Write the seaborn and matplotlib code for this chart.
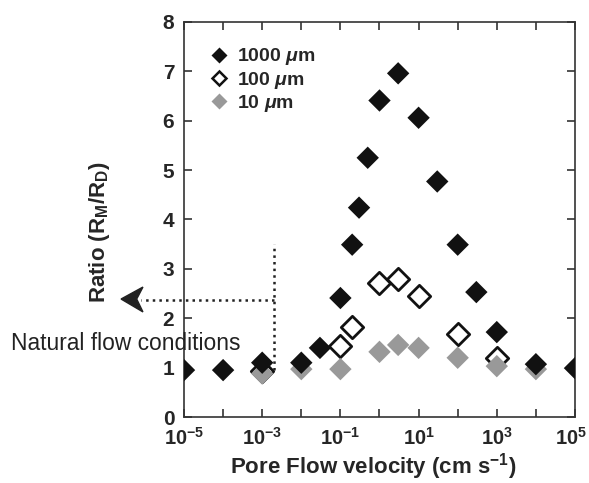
import numpy as np
import matplotlib
matplotlib.use('Agg')
import matplotlib.pyplot as plt
import seaborn as sns
from matplotlib.ticker import FixedLocator, NullLocator
from matplotlib.lines import Line2D
from matplotlib.patches import Polygon
from matplotlib.transforms import ScaledTranslation

# Datos
x_1000 = [1e-5, 1e-4, 1e-3, 1e-2, 0.03, 0.1, 0.2, 0.3, 0.5, 1, 3, 10, 30, 100, 300, 1000, 1e4, 1e5]
y_1000 = [0.95, 0.95, 1.1, 1.1, 1.4, 2.41, 3.49, 4.24, 5.25, 6.41, 6.96, 6.06, 4.77, 3.49, 2.53, 1.72, 1.07, 0.99]

x_100 = [1e-3, 0.1, 0.2, 1, 3, 10, 100, 1000]
y_100 = [0.93, 1.44, 1.83, 2.72, 2.80, 2.45, 1.68, 1.20]

x_10 = [1e-3, 1e-2, 0.1, 1, 3, 10, 100, 1000, 1e4]
y_10 = [0.88, 0.97, 0.97, 1.32, 1.46, 1.40, 1.20, 1.03, 0.97]

decadas = list(range(-5, 6))
y_ticks = list(range(0, 9))

sns.set_style('ticks')
plt.rcParams['font.family'] = ['Liberation Sans', 'DejaVu Sans']
plt.rcParams['mathtext.fontset'] = 'custom'
plt.rcParams['mathtext.rm'] = 'Liberation Sans:bold'
plt.rcParams['mathtext.bf'] = 'Liberation Sans:bold'
plt.rcParams['mathtext.it'] = 'Liberation Sans:bold:italic'

fig = plt.figure(figsize=(5.89, 4.83), dpi=100)
ax = fig.add_axes([0.3124, 0.1366, 0.6638, 0.8179])

ms = 130
sns.scatterplot(x=x_100, y=y_100, ax=ax, marker='D', s=ms,
                facecolor='white', edgecolor='#111111', linewidth=2, zorder=3)
sns.scatterplot(x=x_10, y=y_10, ax=ax, marker='D', s=ms,
                color='#999999', edgecolor='none', zorder=4)
sns.scatterplot(x=x_1000, y=y_1000, ax=ax, marker='D', s=ms,
                color='#111111', edgecolor='none', zorder=5)

ax.set_xscale('log')
ax.set_xlim(1e-5, 1e5)
ax.set_ylim(0, 8)

# Ticks
ax.xaxis.set_major_locator(FixedLocator([10.0 ** d for d in decadas]))
ax.xaxis.set_minor_locator(NullLocator())
ax.set_xticklabels([f'$10^{{{d}}}$' if d % 2 else '' for d in decadas])
ax.set_yticks(y_ticks)
ax.set_yticklabels([str(t) for t in y_ticks], fontweight='bold')
ax.tick_params(direction='in', top=True, right=True, length=6, width=1.2,
               labelsize=15, color='#333333')
ax.tick_params(axis='x', pad=7, labelsize=14.5)
ax.tick_params(axis='y', pad=7)
for s in ax.spines.values():
    s.set_linewidth(1.2)
    s.set_color('#333333')

# el ultimo rotulo (10^5) toca el borde: correrlo un poco a la izquierda
ultimo = ax.xaxis.get_major_ticks()[-1].label1
ultimo.set_transform(ultimo.get_transform() + ScaledTranslation(-4 / 100, 0, fig.dpi_scale_trans))

ax.set_xlabel('Pore Flow velocity (cm s$^{-1}$)', fontsize=16, fontweight='bold')
ax.xaxis.set_label_coords(0.483, -0.086)
ax.xaxis.label.set_va('top')
ax.set_ylabel(r'Ratio (R$_\mathrm{M}$/R$_\mathrm{D}$)', fontsize=16, fontweight='bold')
ax.yaxis.set_label_coords(-0.184, 0.468)

# Leyenda
handles = [
    Line2D([], [], marker='D', linestyle='none', markersize=8, color='#111111', markeredgecolor='none'),
    Line2D([], [], marker='D', linestyle='none', markersize=7.5, markerfacecolor='white',
           markeredgecolor='#111111', markeredgewidth=1.8),
    Line2D([], [], marker='D', linestyle='none', markersize=8, color='#999999', markeredgecolor='none'),
]
labels = ['1000 $\\mu$m', '100 $\\mu$m', '10 $\\mu$m']
ax.legend(handles, labels, loc='upper left', frameon=False,
          prop={'weight': 'bold', 'size': 14}, handletextpad=0.3,
          labelspacing=0.12, borderaxespad=0.0, handlelength=1.2,
          bbox_to_anchor=(0.04, 0.958))

# Condiciones naturales de flujo
x_lim_nat = 0.002
ax.plot([x_lim_nat, x_lim_nat], [0.95, 3.5], linestyle=':', color='#222222', lw=1.8, clip_on=False)
ax.plot([x_lim_nat, 10 ** -6.1], [2.37, 2.37], linestyle=':', color='#222222', lw=1.8, clip_on=False)
punta = Polygon([(-0.161, 0.2987), (-0.105, 0.329), (-0.121, 0.2987), (-0.105, 0.266)],
                closed=True, transform=ax.transAxes, color='#222222', clip_on=False, zorder=6)
ax.add_patch(punta)
ax.text(-0.442, 0.187, 'Natural flow conditions', transform=ax.transAxes,
        ha='left', va='center', fontsize=16.4, color='#222222')

plt.savefig('out.png', dpi=100)
plt.close()
